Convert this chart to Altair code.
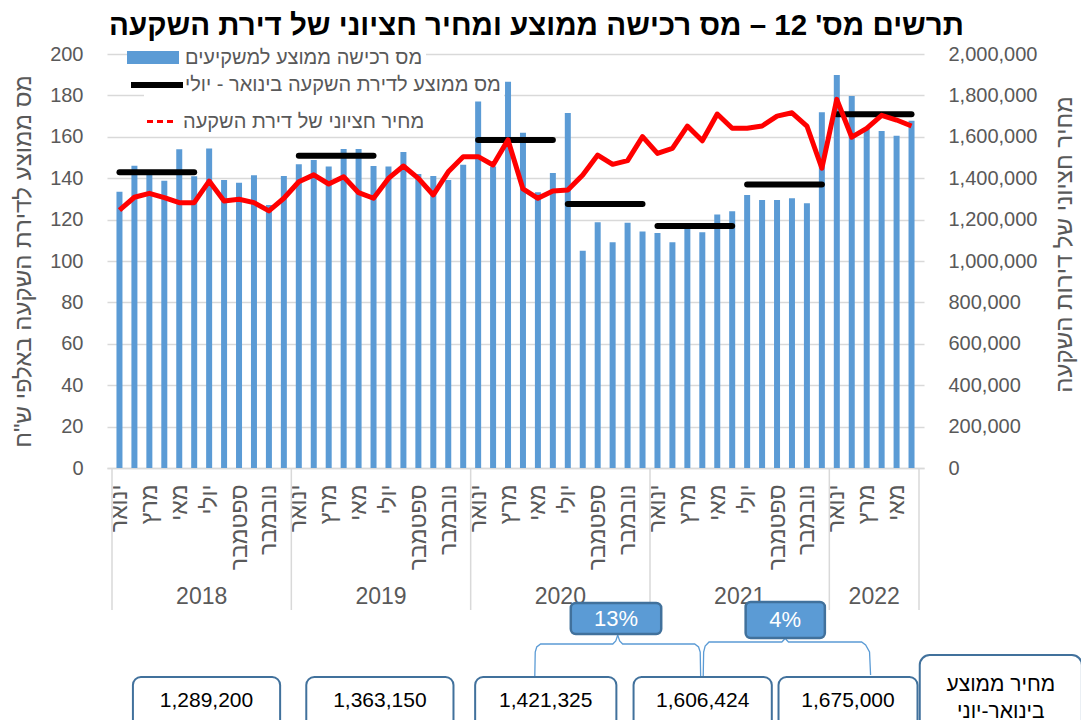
import json
import altair as alt
import pandas as pd

# ---------------- data ----------------
month_names = ['ינואר', 'פברואר', 'מרץ', 'אפריל', 'מאי', 'יוני',
               'יולי', 'אוגוסט', 'ספטמבר', 'אוקטובר', 'נובמבר', 'דצמבר']
years = ['2018', '2019', '2020', '2021', '2022']
months_per_year = [12, 12, 12, 12, 6]

# average purchase tax per investor (thousand NIS), monthly
tax_2018 = [133.5, 146.0, 141.5, 138.8, 154.0, 141.0, 154.3, 139.1, 137.8, 141.4, 127.0, 141.1]
tax_2019 = [146.7, 148.8, 145.7, 154.1, 154.1, 145.9, 145.6, 152.7, 142.0, 141.1, 139.1, 146.5]
tax_2020 = [177.1, 145.6, 186.6, 162.0, 133.2, 142.5, 171.5, 105.0, 118.7, 109.0, 118.5, 114.2]
tax_2021 = [113.5, 109.0, 116.0, 113.9, 122.5, 124.0, 131.9, 129.5, 129.5, 130.3, 127.9, 171.8]
tax_2022 = [189.9, 179.7, 164.0, 162.8, 160.5, 167.8]

# median price of an investment apartment (NIS), monthly
price_2018 = [1246000, 1308000, 1327000, 1306000, 1282000, 1282000,
              1386000, 1290000, 1298000, 1282000, 1242000, 1303000]
price_2019 = [1383000, 1416000, 1372000, 1407000, 1330000, 1303000,
              1399000, 1459000, 1399000, 1319000, 1431000, 1504000]
price_2020 = [1504000, 1464000, 1585000, 1348000, 1303000, 1338000,
              1343000, 1416000, 1512000, 1467000, 1485000, 1601000]
price_2021 = [1520000, 1544000, 1652000, 1581000, 1710000, 1641000,
              1641000, 1652000, 1700000, 1716000, 1652000, 1448000]
price_2022 = [1781000, 1598000, 1641000, 1704000, 1681000, 1652000]

# half-year average tax (thousand NIS): first month index, last month index, value
avg_start = [0, 12, 24, 30, 36, 42, 48]
avg_end = [5, 17, 29, 35, 41, 47, 53]
avg_value = [142.9, 150.9, 158.5, 127.5, 116.9, 137.0, 170.9]

series_bar = 'מס רכישה ממוצע למשקיעים'
series_avg = 'מס ממוצע לדירת השקעה בינואר - יולי'
series_price = 'מחיר חציוני של דירת השקעה'

# average price Jan-Jun boxes under the chart
box_values = ['1,289,200', '1,363,150', '1,421,325', '1,606,424', '1,675,000']
box_x0 = [1.40, 13.0, 24.3, 34.9, 44.6]
box_x1 = [11.25, 22.85, 33.75, 44.15, 53.9]
label_box_lines = ['מחיר ממוצע', 'בינואר-יוני']
label_box_x = [54.05, 64.9]

pct_labels = ['13%', '4%']
pct_x0 = [30.7, 42.4]
pct_x1 = [36.75, 47.7]
pct_y0 = [549, 548]
pct_y1 = [580, 584]

brace1_u = [28.29, 28.32, 28.42, 28.68, 33.51, 33.71, 33.84, 33.97, 34.17, 38.99, 39.25, 39.36, 39.39]
brace1_y = [623, 598, 593, 590, 590, 587, 581, 587, 590, 590, 593, 598, 623]
brace2_u = [39.56, 39.59, 39.69, 39.95, 44.82, 44.95, 45.04, 45.14, 45.27, 50.16, 50.43, 50.69, 50.76]
brace2_y = [623, 598, 592, 588, 588, 586, 584, 586, 588, 588, 591, 598, 621]

title_text = "תרשים מס' 12 – מס רכישה ממוצע ומחיר חציוני של דירת השקעה"
left_title = 'מס ממוצע לדירת השקעה באלפי ש"ח'
right_title = 'מחיר חציוני של דירות השקעה'

# ---------------- tables ----------------
tax = tax_2018 + tax_2019 + tax_2020 + tax_2021 + tax_2022
price = price_2018 + price_2019 + price_2020 + price_2021 + price_2022
n = len(tax)
df = pd.DataFrame({
    'u': [i + 0.5 for i in range(n)],
    'tax': tax,
    'price': price,
    's1': series_bar,
    's3': series_price,
})
df_avg = pd.DataFrame({
    'u0': [a + 0.5 for a in avg_start],
    'u1': [b + 0.5 for b in avg_end],
    'avg': avg_value,
    's2': series_avg,
})

starts = [sum(months_per_year[:k]) for k in range(len(years))]
df_years = pd.DataFrame({
    'year': years,
    'uc': [s + m / 2 for s, m in zip(starts, months_per_year)],
    'py': 543,
})
df_sep = pd.DataFrame({
    'us': starts + [n],
    'py0': 414,
    'py1': 556,
})
df_boxes = pd.DataFrame({
    'x0': box_x0, 'x1': box_x1, 'txt': box_values,
    'xc': [(a + b) / 2 for a, b in zip(box_x0, box_x1)],
    'py0': 623, 'py1': 690, 'pt': 647,
})
df_lbox = pd.DataFrame({'x0': [label_box_x[0]], 'x1': [label_box_x[1]], 'py0': [601], 'py1': [690]})
df_ltxt = pd.DataFrame({
    'txt': label_box_lines,
    'xc': [(label_box_x[0] + label_box_x[1]) / 2] * 2,
    'pt': [631, 658],
})
df_pct = pd.DataFrame({
    'x0': pct_x0, 'x1': pct_x1, 'py0': pct_y0, 'py1': pct_y1, 'txt': pct_labels,
    'xc': [(a + b) / 2 for a, b in zip(pct_x0, pct_x1)],
    'pt': [(a + b) / 2 for a, b in zip(pct_y0, pct_y1)],
})
df_brace = pd.DataFrame({
    'bu': brace1_u + brace2_u,
    'by': brace1_y + brace2_y,
    'bid': ['a'] * len(brace1_u) + ['b'] * len(brace2_u),
    'k': list(range(len(brace1_u))) + list(range(len(brace2_u))),
})

# ---------------- styling ----------------
FONT = 'Liberation Sans'
GRAY = '#595959'
GRID = '#D9D9D9'
BLUE = '#5B9BD5'
DARKBLUE = '#41719C'

xscale = alt.Scale(domain=[0, n], nice=False, zero=False)
label_expr = json.dumps(month_names, ensure_ascii=False) + '[floor(datum.value) % 12]'
xaxis = alt.Axis(values=[i + 0.5 for i in range(0, n, 2)], labelExpr=label_expr,
                 labelAngle=270, labelFontSize=23, labelColor=GRAY, labelPadding=16,
                 labelOverlap=False, labelFlush=False, ticks=False, grid=False,
                 domain=True, domainColor=GRID, domainWidth=1.5, title=None)


def X(field):
    return alt.X(field, type='quantitative', scale=xscale, axis=xaxis)


leg_common = dict(orient='none', title=None, labelFontSize=20, labelColor=GRAY,
                  labelLimit=600, padding=3, fillColor='white', symbolSize=169)

bars = alt.Chart(df).mark_bar(size=6).encode(
    x=X('u'),
    y=alt.Y('tax:Q', scale=alt.Scale(domain=[0, 200]),
            axis=alt.Axis(orient='left', values=list(range(0, 201, 20)), grid=True,
                          gridColor=GRID, gridWidth=1.3, domain=False, ticks=False,
                          labelFontSize=20, labelColor=GRAY, labelPadding=24,
                          title=left_title, titleFontSize=24, titleFontWeight='normal',
                          titleColor=GRAY, titleAngle=270, titlePadding=14)),
    color=alt.Color('s1:N', scale=alt.Scale(range=[BLUE]),
                    legend=alt.Legend(symbolType='M-4,-1H4V1H-4Z', symbolStrokeWidth=0,
                                      labelOffset=22, legendX=33, legendY=-9.5, **leg_common)),
)

avg_rules = alt.Chart(df_avg).mark_rule(strokeWidth=6, strokeCap='round').encode(
    x=X('u0'), x2='u1',
    y=alt.Y('avg:Q', scale=alt.Scale(domain=[0, 200]), axis=None),
    color=alt.Color('s2:N', scale=alt.Scale(range=['black']),
                    legend=alt.Legend(symbolType='M-4,0H4', symbolStrokeWidth=6,
                                      labelOffset=18, legendX=37, legendY=18, **leg_common)),
)

price_line = alt.Chart(df).mark_line(strokeWidth=5, strokeJoin='round').encode(
    x=X('u'),
    y=alt.Y('price:Q', scale=alt.Scale(domain=[0, 2000000]),
            axis=alt.Axis(orient='right', values=list(range(0, 2000001, 200000)), format=',d',
                          grid=False, domain=False, ticks=False, labelFontSize=20,
                          labelColor=GRAY, labelPadding=24, title=right_title,
                          titleFontSize=24, titleFontWeight='normal', titleColor=GRAY,
                          titleAngle=270, titleBaseline='top', titlePadding=16,
                          titleY=190)),
    color=alt.Color('s3:N', scale=alt.Scale(range=['#FF0000']),
                    legend=alt.Legend(symbolType='M-2,0H2', symbolStrokeWidth=3,
                                      symbolDash=[6, 4], labelOffset=13,
                                      legendX=40, legendY=54.5, **leg_common)),
)


def PY(field):
    return alt.Y(field, type='quantitative', scale=None, axis=None)


seps = alt.Chart(df_sep).mark_rule(color=GRID, strokeWidth=1.5).encode(
    x=X('us'), y=PY('py0'), y2='py1')

year_text = alt.Chart(df_years).mark_text(fontSize=23, color=GRAY, baseline='middle').encode(
    x=X('uc'), y=PY('py'), text='year:N')

braces = alt.Chart(df_brace).mark_line(color=BLUE, strokeWidth=1.3).encode(
    x=X('bu'), y=PY('by'), detail='bid:N', order='k:Q')

pct_boxes = alt.Chart(df_pct).mark_rect(fill=BLUE, stroke=DARKBLUE, strokeWidth=2.5,
                                        cornerRadius=5).encode(
    x=X('x0'), x2='x1', y=PY('py0'), y2='py1')
pct_text = alt.Chart(df_pct).mark_text(fontSize=22, color='white', baseline='middle').encode(
    x=X('xc'), y=PY('pt'), text='txt:N')

val_boxes = alt.Chart(df_boxes).mark_rect(fill='white', stroke=DARKBLUE, strokeWidth=2,
                                          cornerRadius=8).encode(
    x=X('x0'), x2='x1', y=PY('py0'), y2='py1')
val_text = alt.Chart(df_boxes).mark_text(fontSize=21, color='black', baseline='middle').encode(
    x=X('xc'), y=PY('pt'), text='txt:N')

lbox = alt.Chart(df_lbox).mark_rect(fill='white', stroke=DARKBLUE, strokeWidth=2,
                                    cornerRadius=10).encode(
    x=X('x0'), x2='x1', y=PY('py0'), y2='py1')
ltext = alt.Chart(df_ltxt).mark_text(fontSize=21, color='black', baseline='middle').encode(
    x=X('xc'), y=PY('pt'), text='txt:N')

chart = alt.layer(
    bars, avg_rules, price_line, seps, year_text, braces,
    pct_boxes, pct_text, val_boxes, val_text, lbox, ltext,
).resolve_scale(
    y='independent', color='independent'
).properties(
    width=817, height=414,
    autosize=alt.AutoSizeParams(type='none'),
    padding={'left': 99, 'top': 46, 'right': 157, 'bottom': 252},
    title=alt.TitleParams(text=title_text, fontSize=29.5, fontWeight='bold', color='black',
                          font=FONT, anchor='middle', frame='group', dx=21, offset=3),
).configure(
    font=FONT,
    background='white',
).configure_view(
    stroke=None
)

chart.save('out.html', embed_options={'renderer': 'svg', 'actions': False})
